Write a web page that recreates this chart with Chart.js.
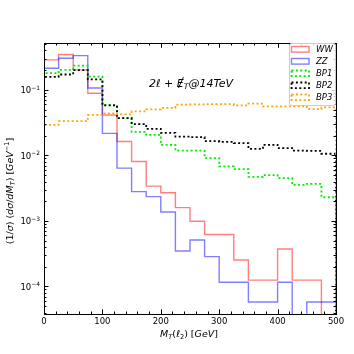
<!DOCTYPE html>
<html>
<head>
<meta charset="utf-8">
<script src="https://cdn.jsdelivr.net/npm/chart.js@4.4.1/dist/chart.umd.min.js"></script>
<style>
  html, body { margin: 0; padding: 0; background: #fff; }
  canvas { display: block; }
</style>
</head>
<body>
<canvas id="chart" width="354" height="354"></canvas>
<script>
// bin lower edges, 25 GeV wide
const binLo = [0, 25, 50, 75, 100, 125, 150, 175, 200, 225, 250, 275, 300, 325, 350, 375, 400, 425, 450, 475];
const binEnd = 500;

const ww  = [0.287, 0.348, 0.202, 0.089, 0.0415, 0.0163, 0.0081, 0.0034, 0.0027, 0.0016, 0.00099, 0.00062, 0.00062, 0.000254, 0.000125, 0.000125, 0.000374, 0.000125, 0.000125, 0];
const zz  = [0.214, 0.305, 0.334, 0.107, 0.0217, 0.0064, 0.0028, 0.00235, 0.00137, 0.000348, 0.000513, 0.000285, 0.000116, 0.000116, 0.000058, 0.000058, 0.000116, 0, 0.000058, 0.000058];
const bp1 = [0.180, 0.202, 0.235, 0.160, 0.059, 0.037, 0.0229, 0.0206, 0.0145, 0.0118, 0.0118, 0.0091, 0.0068, 0.0062, 0.0047, 0.0050, 0.0045, 0.00355, 0.00367, 0.0023];
const bp2 = [0.158, 0.172, 0.200, 0.145, 0.058, 0.037, 0.030, 0.0254, 0.0221, 0.0194, 0.0190, 0.0165, 0.0161, 0.0154, 0.0126, 0.0145, 0.0129, 0.0118, 0.0117, 0.0106];
const bp3 = [0.0292, 0.0333, 0.0333, 0.0415, 0.0438, 0.0423, 0.047, 0.0504, 0.0531, 0.0597, 0.060, 0.0605, 0.0605, 0.058, 0.0618, 0.056, 0.056, 0.056, 0.0509, 0.0541];

const seriesNames = ['WW', 'ZZ', 'BP1', 'BP2', 'BP3'];
const xTicks = [0, 100, 200, 300, 400, 500];
const xMinorStep = 20;
const yTickExp = [-4, -3, -2, -1];

const yMin = 3.8e-5, yMax = 0.52;
const floorVal = yMin / 10; // empty bins drop below the axis

// step outline like a matplotlib 'step' histogram
function outline(vals) {
  const pts = [{ x: binLo[0], y: floorVal }];
  vals.forEach((v, i) => pts.push({ x: binLo[i], y: v > 0 ? v : floorVal }));
  const last = vals[vals.length - 1];
  pts.push({ x: binEnd, y: last > 0 ? last : floorVal });
  pts.push({ x: binEnd, y: floorVal });
  return pts;
}

const styles = [
  { color: 'rgba(255,0,0,0.5)', width: 1.4, dash: [] },
  { color: 'rgba(0,0,255,0.5)', width: 1.4, dash: [] },
  { color: '#00ee00', width: 1.8, dash: [2, 2.4] },
  { color: '#000000', width: 1.8, dash: [2, 2.4] },
  { color: '#ffa500', width: 1.8, dash: [2, 2.4] }
];
const allSeries = [ww, zz, bp1, bp2, bp3];

const FONT = '"DejaVu Sans", sans-serif';

// draws mixed italic/upright text with sub/superscripts
function rich(ctx, parts, x, y, size, align) {
  const fontFor = p => (p.i ? 'italic ' : '') + (p.s ? size * 0.7 : size) + 'px ' + FONT;
  let w = 0;
  parts.forEach(p => { ctx.font = fontFor(p); p.w = ctx.measureText(p.t).width; w += p.w; });
  let cx = align === 'center' ? x - w / 2 : align === 'right' ? x - w : x;
  ctx.textAlign = 'left';
  ctx.textBaseline = 'alphabetic';
  parts.forEach(p => {
    ctx.font = fontFor(p);
    const dy = p.s === 1 ? -size * 0.42 : p.s === -1 ? size * 0.2 : 0;
    ctx.fillText(p.t, cx, y + dy);
    if (p.slash) {
      ctx.save();
      ctx.lineWidth = 0.9;
      ctx.beginPath();
      ctx.moveTo(cx + p.w * 0.25, y + 1.5);
      ctx.lineTo(cx + p.w * 0.95, y - size * 0.85);
      ctx.stroke();
      ctx.restore();
    }
    cx += p.w;
  });
  return w;
}

const framePlugin = {
  id: 'frame',
  afterDatasetsDraw(chart) {
    const { ctx, chartArea: a, scales } = chart;
    const xs = scales.x, ys = scales.y;
    ctx.save();
    ctx.fillStyle = '#000';
    ctx.strokeStyle = '#000';
    ctx.lineWidth = 1;

    // inward ticks on all four sides
    ctx.beginPath();
    for (let v = 0; v <= binEnd; v += xMinorStep) {
      const px = Math.round(xs.getPixelForValue(v)) + 0.5;
      const len = xTicks.includes(v) ? 4.5 : 2.5;
      ctx.moveTo(px, a.bottom); ctx.lineTo(px, a.bottom - len);
      ctx.moveTo(px, a.top); ctx.lineTo(px, a.top + len);
    }
    xTicks.forEach(v => {
      const px = Math.round(xs.getPixelForValue(v)) + 0.5;
      ctx.moveTo(px, a.bottom); ctx.lineTo(px, a.bottom - 4.5);
      ctx.moveTo(px, a.top); ctx.lineTo(px, a.top + 4.5);
    });
    for (let e = -5; e <= 0; e++) {
      for (let k = 1; k <= 9; k++) {
        const v = k * Math.pow(10, e);
        if (v < yMin || v > yMax) continue;
        const py = Math.round(ys.getPixelForValue(v)) + 0.5;
        const len = k === 1 ? 4.5 : 2.5;
        ctx.moveTo(a.left, py); ctx.lineTo(a.left + len, py);
        ctx.moveTo(a.right, py); ctx.lineTo(a.right - len, py);
      }
    }
    ctx.stroke();
    ctx.strokeRect(Math.round(a.left) + 0.5, Math.round(a.top) + 0.5,
      Math.round(a.right - a.left), Math.round(a.bottom - a.top));

    // tick labels
    ctx.font = '8.5px ' + FONT;
    ctx.textAlign = 'center';
    ctx.textBaseline = 'top';
    xTicks.forEach(v => ctx.fillText(String(v), xs.getPixelForValue(v), a.bottom + 4));
    yTickExp.forEach(e => {
      const py = ys.getPixelForValue(Math.pow(10, e));
      rich(ctx, [{ t: '10' }, { t: '\u2212' + (-e), s: 1 }], a.left - 4, py + 3.2, 8.5, 'right');
    });

    // axis titles
    rich(ctx, [{ t: 'M', i: 1 }, { t: 'T', i: 1, s: -1 }, { t: '(' }, { t: '\u2113', i: 1 },
      { t: '2', s: -1 }, { t: ') [' }, { t: 'GeV', i: 1 }, { t: ']' }], 189, 337, 9.5, 'center');
    ctx.save();
    ctx.translate(13, 191);
    ctx.rotate(-Math.PI / 2);
    rich(ctx, [{ t: '(1/' }, { t: '\u03c3', i: 1 }, { t: ') (' }, { t: 'd\u03c3', i: 1 }, { t: '/' },
      { t: 'dM', i: 1 }, { t: 'T', i: 1, s: -1 }, { t: ') [' }, { t: 'GeV', i: 1 },
      { t: '\u22121', s: 1 }, { t: ']' }], 0, 0, 9.5, 'center');
    ctx.restore();

    // process label
    rich(ctx, [{ t: '2\u2113', i: 1 }, { t: ' + ', i: 0 }, { t: 'E', i: 1, slash: 1 },
      { t: 'T', i: 1, s: -1 }, { t: '@14TeV', i: 1 }], 149, 86.5, 11, 'left');

    // legend
    const lx = 289.5, ly = 43.5, lw = 46, lh = 62;
    ctx.beginPath();
    ctx.roundRect(lx, ly, lw, lh, 2);
    ctx.fillStyle = 'rgba(255,255,255,0.8)';
    ctx.fill();
    ctx.strokeStyle = '#cccccc';
    ctx.lineWidth = 1;
    ctx.stroke();
    seriesNames.forEach((name, i) => {
      const cy = 49.3 + i * 12;
      const st = styles[i];
      ctx.save();
      ctx.strokeStyle = st.color;
      ctx.lineWidth = st.width;
      ctx.setLineDash(st.dash);
      ctx.strokeRect(291.5, cy - 2.8, 17.5, 5.6);
      ctx.restore();
      ctx.fillStyle = '#000';
      ctx.font = 'italic 8.5px ' + FONT;
      ctx.textAlign = 'left';
      ctx.textBaseline = 'middle';
      ctx.fillText(name, 316, cy + 0.5);
    });
    ctx.restore();
  }
};

const ctx = document.getElementById('chart').getContext('2d');
new Chart(ctx, {
  type: 'line',
  data: {
    datasets: allSeries.map((vals, i) => ({
      label: seriesNames[i],
      data: outline(vals),
      borderColor: styles[i].color,
      borderWidth: styles[i].width,
      borderDash: styles[i].dash,
      stepped: 'before',
      pointRadius: 0,
      fill: false,
      order: allSeries.length - i
    }))
  },
  options: {
    responsive: false,
    animation: false,
    devicePixelRatio: 1,
    layout: { padding: { left: 44, right: 18, top: 43, bottom: 40 } },
    scales: {
      x: { type: 'linear', min: 0, max: binEnd, display: false },
      y: { type: 'logarithmic', min: yMin, max: yMax, display: false }
    },
    plugins: {
      legend: { display: false },
      tooltip: { enabled: false }
    }
  },
  plugins: [framePlugin]
});
</script>
</body>
</html>
